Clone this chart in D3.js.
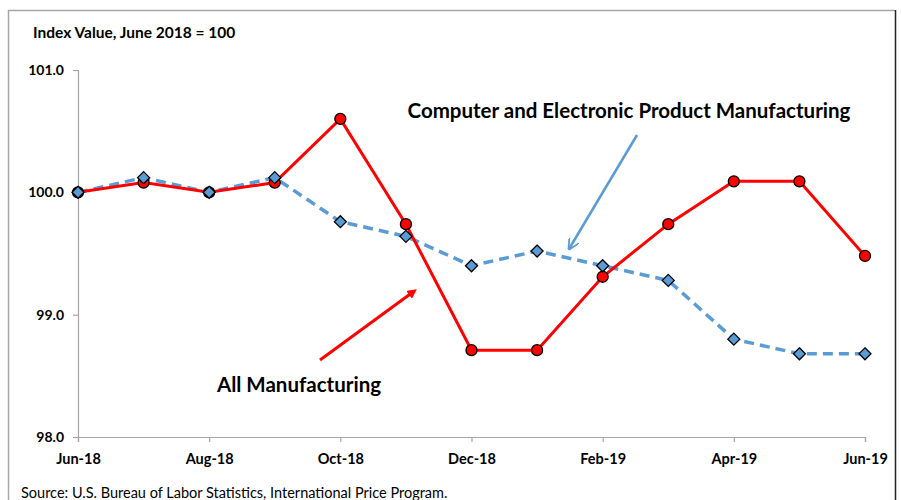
<!DOCTYPE html>
<html>
<head>
<meta charset="utf-8">
<script src="https://cdn.jsdelivr.net/npm/d3@7"></script>
<style>
  html, body { margin: 0; padding: 0; background: #fff; }
  svg { display: block; }
</style>
</head>
<body>
<svg id="chart" width="901" height="500"></svg>
<script>
const months = ["Jun-18","Jul-18","Aug-18","Sep-18","Oct-18","Nov-18","Dec-18","Jan-19","Feb-19","Mar-19","Apr-19","May-19","Jun-19"];
const allManufacturing = [100.0, 100.08, 100.0, 100.08, 100.6, 99.74, 98.71, 98.71, 99.31, 99.74, 100.09, 100.09, 99.48];
const computerElectronic = [100.0, 100.12, 100.0, 100.12, 99.76, 99.64, 99.40, 99.52, 99.40, 99.28, 98.80, 98.68, 98.68];
const xTickLabels = ["Jun-18","Aug-18","Oct-18","Dec-18","Feb-19","Apr-19","Jun-19"];
const yTicks = [98.0, 99.0, 100.0, 101.0];

const svg = d3.select("#chart");
const font = "Lato, 'Open Sans', sans-serif";

// frame
svg.append("line").attr("x1", 8.5).attr("x2", 8.5).attr("y1", 10).attr("y2", 500).attr("stroke", "#a6a6a6").attr("stroke-width", 1.5);
svg.append("line").attr("x1", 8).attr("x2", 895).attr("y1", 10.5).attr("y2", 10.5).attr("stroke", "#a6a6a6").attr("stroke-width", 1.5);
svg.append("line").attr("x1", 895.5).attr("x2", 895.5).attr("y1", 10).attr("y2", 500).attr("stroke", "#222").attr("stroke-width", 1.5);

const x = d3.scalePoint().domain(months).range([78, 865]);
const y = d3.scaleLinear().domain([98, 101]).range([437, 70]);

// axes
const yAxis = svg.append("g").attr("transform", "translate(78,0)")
  .call(d3.axisLeft(y).tickValues(yTicks).tickFormat(d3.format(".1f")).tickSizeOuter(0).tickSize(5).tickPadding(9));
const xAxis = svg.append("g").attr("transform", "translate(0,437)")
  .call(d3.axisBottom(x).tickValues(xTickLabels).tickSizeOuter(0).tickSize(5).tickPadding(12));
[yAxis, xAxis].forEach(g => {
  g.select(".domain").attr("stroke", "#a6a6a6").attr("stroke-width", 1.2);
  g.selectAll(".tick line").attr("stroke", "#a6a6a6").attr("stroke-width", 1.2);
  g.selectAll(".tick text").attr("fill", "#000").style("font-family", font).style("font-weight", "bold").style("font-size", "14px");
});
xAxis.selectAll(".tick text").style("font-size", "14.5px");

// lines
const line = vals => d3.line().x((d, i) => x(months[i])).y(d => y(d))(vals);
svg.append("path").attr("d", line(computerElectronic)).attr("fill", "none")
  .attr("stroke", "#5B9BD5").attr("stroke-width", 3.5).attr("stroke-dasharray", "10,6");
svg.append("path").attr("d", line(allManufacturing)).attr("fill", "none")
  .attr("stroke", "#FF0000").attr("stroke-width", 3);

// markers
svg.append("g").selectAll("circle").data(allManufacturing).join("circle")
  .attr("cx", (d, i) => x(months[i])).attr("cy", d => y(d)).attr("r", 5.5)
  .attr("fill", "#FF0000").attr("stroke", "#000").attr("stroke-width", 1.3);
svg.append("g").selectAll("path").data(computerElectronic).join("path")
  .attr("transform", (d, i) => `translate(${x(months[i])},${y(d)})`)
  .attr("d", "M0,-6L6,0L0,6L-6,0Z")
  .attr("fill", "#5B9BD5").attr("stroke", "#000").attr("stroke-width", 1.3);

// arrows
const defs = svg.append("defs");
defs.append("marker").attr("id", "redHead").attr("viewBox", "0 0 10 10").attr("refX", 5).attr("refY", 5)
  .attr("markerWidth", 3.2).attr("markerHeight", 3.2).attr("orient", "auto")
  .append("path").attr("d", "M0,0L10,5L0,10Z").attr("fill", "#FF0000");
defs.append("marker").attr("id", "blueHead").attr("viewBox", "0 0 10 10").attr("refX", 9).attr("refY", 5)
  .attr("markerWidth", 4.5).attr("markerHeight", 4.5).attr("orient", "auto")
  .append("path").attr("d", "M0,0L10,5L0,10").attr("fill", "none").attr("stroke", "#5B9BD5").attr("stroke-width", 1.6);

svg.append("line").attr("x1", 320).attr("y1", 360).attr("x2", 413).attr("y2", 292)
  .attr("stroke", "#FF0000").attr("stroke-width", 3).attr("marker-end", "url(#redHead)");
svg.append("line").attr("x1", 637).attr("y1", 135).attr("x2", 569).attr("y2", 249)
  .attr("stroke", "#5B9BD5").attr("stroke-width", 2.5).attr("marker-end", "url(#blueHead)");

// texts
svg.append("text").attr("x", 33).attr("y", 38).text("Index Value, June 2018 = 100")
  .style("font-family", font).style("font-weight", "bold").style("font-size", "15.5px").attr("fill", "#000");
svg.append("text").attr("x", 629).attr("y", 118).attr("text-anchor", "middle").text("Computer and Electronic Product Manufacturing")
  .style("font-family", font).style("font-weight", "bold").style("font-size", "20.5px").attr("fill", "#000");
svg.append("text").attr("x", 299).attr("y", 392).attr("text-anchor", "middle").text("All Manufacturing")
  .style("font-family", font).style("font-weight", "bold").style("font-size", "20.5px").attr("fill", "#000");
svg.append("text").attr("x", 21).attr("y", 498).text("Source: U.S. Bureau of Labor Statistics, International Price Program.")
  .style("font-family", font).style("font-size", "14.5px").attr("fill", "#000");
</script>
</body>
</html>
